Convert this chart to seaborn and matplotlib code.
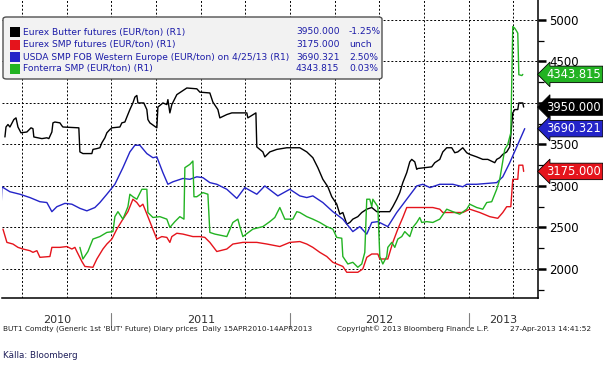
import numpy as np
import pandas as pd
import seaborn as sns
import matplotlib.pyplot as plt
from matplotlib.patches import FancyBboxPatch, Rectangle
from matplotlib.ticker import MultipleLocator, FixedLocator, NullFormatter, FuncFormatter
import matplotlib.transforms as mtransforms

# prices: (decimal year, EUR/ton)
butter = [(2010.403, 3590), (2010.409, 3710), (2010.420, 3740), (2010.431, 3710), (2010.453, 3800),
          (2010.465, 3820), (2010.476, 3710), (2010.493, 3640), (2010.526, 3650), (2010.549, 3700),
          (2010.560, 3690), (2010.565, 3590), (2010.610, 3570), (2010.638, 3580), (2010.649, 3570),
          (2010.666, 3650), (2010.672, 3760), (2010.683, 3770), (2010.711, 3760), (2010.722, 3725),
          (2010.728, 3710), (2010.817, 3700), (2010.823, 3410), (2010.840, 3390), (2010.890, 3390),
          (2010.896, 3440), (2010.918, 3450), (2010.935, 3460), (2010.946, 3520), (2010.963, 3580),
          (2010.974, 3640), (2010.991, 3680), (2011.002, 3700), (2011.047, 3710), (2011.058, 3760),
          (2011.075, 3770), (2011.086, 3830), (2011.103, 3920), (2011.120, 4000), (2011.131, 4070),
          (2011.142, 4090), (2011.148, 4000), (2011.181, 4000), (2011.198, 3920), (2011.204, 3800),
          (2011.215, 3760), (2011.254, 3700), (2011.260, 3950), (2011.288, 4000), (2011.310, 3980),
          (2011.316, 4040), (2011.327, 3880), (2011.338, 3980), (2011.366, 4100), (2011.422, 4180),
          (2011.478, 4170), (2011.495, 4130), (2011.551, 4120), (2011.568, 4010), (2011.596, 3920),
          (2011.607, 3820), (2011.646, 3860), (2011.674, 3880), (2011.758, 3880), (2011.764, 3820),
          (2011.809, 3880), (2011.814, 3470), (2011.848, 3410), (2011.859, 3350), (2011.887, 3410),
          (2011.926, 3440), (2011.982, 3460), (2012.055, 3460), (2012.094, 3410), (2012.128, 3340),
          (2012.156, 3220), (2012.184, 3080), (2012.212, 2990), (2012.234, 2870), (2012.262, 2780),
          (2012.279, 2660), (2012.296, 2680), (2012.318, 2540), (2012.335, 2560), (2012.352, 2600),
          (2012.380, 2630), (2012.402, 2680), (2012.430, 2720), (2012.458, 2740), (2012.486, 2690),
          (2012.559, 2690), (2012.576, 2750), (2012.598, 2840), (2012.615, 2920), (2012.632, 3040),
          (2012.654, 3160), (2012.671, 3290), (2012.682, 3320), (2012.699, 3290), (2012.710, 3200),
          (2012.716, 3210), (2012.794, 3230), (2012.811, 3280), (2012.839, 3320), (2012.856, 3410),
          (2012.878, 3460), (2012.906, 3460), (2012.923, 3400), (2012.940, 3410), (2012.968, 3460),
          (2012.990, 3400), (2013.007, 3380), (2013.046, 3350), (2013.080, 3320), (2013.108, 3320),
          (2013.147, 3280), (2013.158, 3320), (2013.175, 3340), (2013.192, 3380), (2013.214, 3410),
          (2013.231, 3470), (2013.248, 3880), (2013.259, 3920), (2013.276, 3920), (2013.282, 4000),
          (2013.304, 4000), (2013.309, 3950)]

smp = [(2010.392, 2480), (2010.414, 2320), (2010.448, 2300), (2010.476, 2260), (2010.504, 2240),
       (2010.543, 2220), (2010.560, 2200), (2010.582, 2220), (2010.599, 2140), (2010.655, 2150),
       (2010.666, 2260), (2010.711, 2260), (2010.750, 2270), (2010.778, 2240), (2010.795, 2260),
       (2010.806, 2210), (2010.834, 2090), (2010.851, 2030), (2010.896, 2020), (2010.918, 2120),
       (2010.952, 2240), (2010.974, 2300), (2011.002, 2360), (2011.030, 2480), (2011.064, 2600),
       (2011.092, 2690), (2011.120, 2840), (2011.142, 2800), (2011.159, 2750), (2011.176, 2780),
       (2011.204, 2630), (2011.226, 2510), (2011.254, 2360), (2011.282, 2390), (2011.310, 2380),
       (2011.327, 2320), (2011.338, 2390), (2011.366, 2430), (2011.400, 2420), (2011.456, 2390),
       (2011.495, 2390), (2011.523, 2380), (2011.551, 2320), (2011.590, 2210), (2011.646, 2240),
       (2011.680, 2300), (2011.736, 2320), (2011.814, 2320), (2011.871, 2300), (2011.943, 2270),
       (2011.999, 2320), (2012.055, 2330), (2012.094, 2300), (2012.128, 2260), (2012.167, 2200),
       (2012.206, 2150), (2012.240, 2080), (2012.296, 2030), (2012.318, 1960), (2012.380, 1960),
       (2012.408, 2000), (2012.430, 2140), (2012.458, 2180), (2012.492, 2180), (2012.503, 2120),
       (2012.548, 2120), (2012.576, 2320), (2012.604, 2480), (2012.632, 2620), (2012.654, 2740),
       (2012.710, 2740), (2012.800, 2740), (2012.839, 2720), (2012.856, 2680), (2012.968, 2680),
       (2013.007, 2720), (2013.063, 2680), (2013.119, 2630), (2013.164, 2610), (2013.192, 2680),
       (2013.214, 2750), (2013.237, 2750), (2013.248, 3080), (2013.276, 3080), (2013.282, 3250),
       (2013.304, 3250), (2013.309, 3175)]

usda = [(2010.380, 2680), (2010.386, 2990), (2010.431, 2930), (2010.487, 2900), (2010.543, 2860),
        (2010.599, 2810), (2010.638, 2800), (2010.666, 2690), (2010.694, 2750), (2010.739, 2790),
        (2010.778, 2780), (2010.823, 2730), (2010.862, 2700), (2010.907, 2740), (2010.935, 2800),
        (2010.974, 2900), (2011.019, 3020), (2011.064, 3220), (2011.103, 3410), (2011.131, 3490),
        (2011.159, 3490), (2011.198, 3390), (2011.232, 3340), (2011.254, 3350), (2011.288, 3160),
        (2011.316, 3020), (2011.344, 3050), (2011.400, 3090), (2011.439, 3080), (2011.478, 3110),
        (2011.512, 3100), (2011.551, 3040), (2011.590, 3020), (2011.646, 2960), (2011.702, 2850),
        (2011.747, 2980), (2011.814, 2900), (2011.859, 3000), (2011.932, 2880), (2011.999, 2960),
        (2012.055, 2880), (2012.094, 2860), (2012.128, 2880), (2012.184, 2800), (2012.240, 2690),
        (2012.296, 2600), (2012.352, 2450), (2012.391, 2510), (2012.430, 2420), (2012.458, 2560),
        (2012.492, 2570), (2012.548, 2510), (2012.598, 2680), (2012.654, 2840), (2012.710, 3000),
        (2012.744, 3020), (2012.784, 2980), (2012.839, 3020), (2012.912, 3020), (2012.968, 2990),
        (2012.990, 3020), (2013.046, 3020), (2013.102, 3030), (2013.158, 3040), (2013.192, 3110),
        (2013.231, 3280), (2013.270, 3470), (2013.315, 3690.321)]

fonterra = [(2010.823, 2260), (2010.840, 2120), (2010.868, 2210), (2010.896, 2360), (2010.935, 2390),
            (2010.974, 2440), (2011.008, 2450), (2011.019, 2630), (2011.036, 2690), (2011.064, 2600),
            (2011.092, 2750), (2011.103, 2900), (2011.120, 2870), (2011.142, 2840), (2011.170, 2960),
            (2011.198, 2960), (2011.204, 2680), (2011.232, 2620), (2011.271, 2630), (2011.310, 2600),
            (2011.327, 2500), (2011.355, 2570), (2011.383, 2630), (2011.406, 2600), (2011.411, 3220),
            (2011.439, 3260), (2011.456, 3300), (2011.462, 2870), (2011.478, 2870), (2011.512, 2920),
            (2011.540, 2900), (2011.551, 2440), (2011.579, 2420), (2011.646, 2390), (2011.680, 2560),
            (2011.708, 2600), (2011.719, 2510), (2011.736, 2390), (2011.792, 2480), (2011.848, 2510),
            (2011.887, 2570), (2011.915, 2620), (2011.943, 2740), (2011.971, 2600), (2012.016, 2600),
            (2012.038, 2690), (2012.055, 2680), (2012.094, 2630), (2012.128, 2600), (2012.167, 2560),
            (2012.206, 2510), (2012.240, 2480), (2012.262, 2380), (2012.290, 2370), (2012.296, 2150),
            (2012.324, 2060), (2012.352, 2080), (2012.380, 2020), (2012.402, 2060), (2012.419, 2200),
            (2012.430, 2840), (2012.447, 2840), (2012.458, 2750), (2012.464, 2840), (2012.492, 2750),
            (2012.503, 2150), (2012.520, 2060), (2012.542, 2150), (2012.548, 2260), (2012.570, 2320),
            (2012.587, 2260), (2012.604, 2360), (2012.626, 2390), (2012.643, 2450), (2012.671, 2390),
            (2012.688, 2500), (2012.710, 2560), (2012.727, 2620), (2012.738, 2560), (2012.766, 2570),
            (2012.800, 2560), (2012.839, 2600), (2012.878, 2720), (2012.912, 2690), (2012.951, 2660),
            (2012.990, 2720), (2013.007, 2780), (2013.046, 2740), (2013.080, 2720), (2013.102, 2800),
            (2013.130, 2810), (2013.158, 2960), (2013.175, 3080), (2013.203, 3440), (2013.220, 3500),
            (2013.237, 3640), (2013.248, 4920), (2013.259, 4900), (2013.271, 4860), (2013.276, 4840),
            (2013.282, 4340), (2013.299, 4330), (2013.304, 4343.815)]

names = ["Eurex Butter futures (EUR/ton) (R1)",
         "Eurex SMP futures (EUR/ton) (R1)",
         "USDA SMP FOB Western Europe (EUR/ton) on 4/25/13 (R1)",
         "Fonterra SMP (EUR/ton) (R1)"]
changes = ["-1.25%", "unch", "2.50%", "0.03%"]
colors = ["#000000", "#e5141c", "#2424c8", "#22b322"]
years = [2010, 2011, 2012, 2013]
hidden_labels = [4000]  # covered by the value tag in the original

footer_left = "BUT1 Comdty (Generic 1st 'BUT' Future) Diary prices  Daily 15APR2010-14APR2013"
footer_mid = "Copyright\u00a9 2013 Bloomberg Finance L.P."
footer_right = "27-Apr-2013 14:41:52"
source = "Källa: Bloomberg"

series = [butter, smp, usda, fonterra]
frames = []
for name, pts in zip(names, series):
    d = pd.DataFrame(pts, columns=["t", "price"])
    d["series"] = name
    frames.append(d)
df = pd.concat(frames, ignore_index=True)

sns.set_theme(style="white")
plt.rcParams['font.family'] = ['DejaVu Sans']

W, H = 603, 365
fig = plt.figure(figsize=(W / 100, H / 100), dpi=100)
fig.patch.set_facecolor("white")
ax = fig.add_axes([2 / W, 1 - 298 / H, 536 / W, 298 / H])

sns.lineplot(data=df, x="t", y="price", hue="series", palette=dict(zip(names, colors)),
             estimator=None, sort=False, linewidth=1.0, legend=False, ax=ax)

ax.set_xlim(2010.3866, 2013.3893)
ax.set_ylim(1650, 5240)
ax.set_xlabel("")
ax.set_ylabel("")

# axes look
for s in ["left", "top"]:
    ax.spines[s].set_visible(False)
for s in ["right", "bottom"]:
    ax.spines[s].set_color("black")
    ax.spines[s].set_linewidth(1.1)

ax.yaxis.tick_right()
ax.yaxis.set_major_locator(MultipleLocator(500))
ax.yaxis.set_minor_locator(MultipleLocator(250))
ax.yaxis.set_major_formatter(FuncFormatter(lambda v, p: "" if v in hidden_labels else f"{v:.0f}"))
ax.tick_params(axis="y", which="major", direction="out", length=6, width=1.8,
               labelsize=8.5, pad=2, colors="black")
ax.tick_params(axis="y", which="minor", direction="out", length=4, width=0.9, colors="black")

quarters = np.arange(2010.5, 2013.3, 0.25)
months = np.arange(2010 + 5 / 12, 2013.39, 1 / 12)
ax.xaxis.set_major_locator(FixedLocator(quarters))
ax.xaxis.set_minor_locator(FixedLocator(months))
ax.xaxis.set_major_formatter(NullFormatter())
ax.tick_params(axis="x", which="both", direction="inout", length=5, width=0.9, colors="black")

ax.grid(True, which="major", color="black", linestyle=(0, (2, 2)), linewidth=0.7)
ax.set_axisbelow(True)

# year labels with separators under the axis
x0, x1 = ax.get_xlim()
trans = mtransforms.blended_transform_factory(ax.transData, ax.transAxes)
for y in years:
    lo, hi = max(x0, y), min(x1, y + 1)
    ax.text((lo + hi) / 2, -0.074, str(y), transform=trans, ha="center", va="center",
            fontsize=8, color="#303030")
    if y > years[0]:
        ax.plot([y, y], [-0.05, -0.097], transform=trans, color="#808080", lw=0.8, clip_on=False)

# value tags on the right axis
for name, pts, c in zip(names, series, colors):
    v = pts[-1][1]
    ax.annotate(f"{v:.3f}", xy=(1, v), xycoords=ax.get_yaxis_transform(),
                xytext=(6, 0), textcoords="offset points", ha="left", va="center",
                color="white", fontsize=8.3, annotation_clip=False, zorder=10,
                bbox=dict(boxstyle="larrow,pad=0.15", fc=c, ec="black", lw=0.6))

# legend box drawn in figure pixels
def fx(p):
    return p / W

def fy(p):
    return 1 - p / H

box = FancyBboxPatch((fx(3), fy(79)), fx(379), 62 / H, boxstyle="round,pad=0,rounding_size=0.006",
                     transform=fig.transFigure, fc="#f2f2f2", ec="#505050", lw=1.0, zorder=5)
fig.add_artist(box)
rows = [32, 44.5, 57, 68.5]
for name, pts, chg, c, ry in zip(names, series, changes, colors, rows):
    fig.add_artist(Rectangle((fx(10), fy(ry + 5)), 10 / W, 10 / H, transform=fig.transFigure,
                             fc=c, ec="none", zorder=6))
    fig.text(fx(23), fy(ry), name, fontsize=6.6, color="#1c1ca8", va="center", zorder=7)
    fig.text(fx(296), fy(ry), f"{pts[-1][1]:.3f}", fontsize=6.6, color="#1c1ca8", va="center", zorder=7)
    fig.text(fx(349), fy(ry), chg, fontsize=6.6, color="#1c1ca8", va="center", zorder=7)

# footer
fig.text(fx(3), fy(328.5), footer_left, fontsize=5.3, color="#202020", va="center")
fig.text(fx(337), fy(328.5), footer_mid, fontsize=5.3, color="#202020", va="center")
fig.text(fx(510), fy(328.5), footer_right, fontsize=5.3, color="#202020", va="center")
fig.text(fx(3), fy(355), source, fontsize=6.3, color="#1f1f5a", va="center")

fig.savefig("out.png", dpi=100)
